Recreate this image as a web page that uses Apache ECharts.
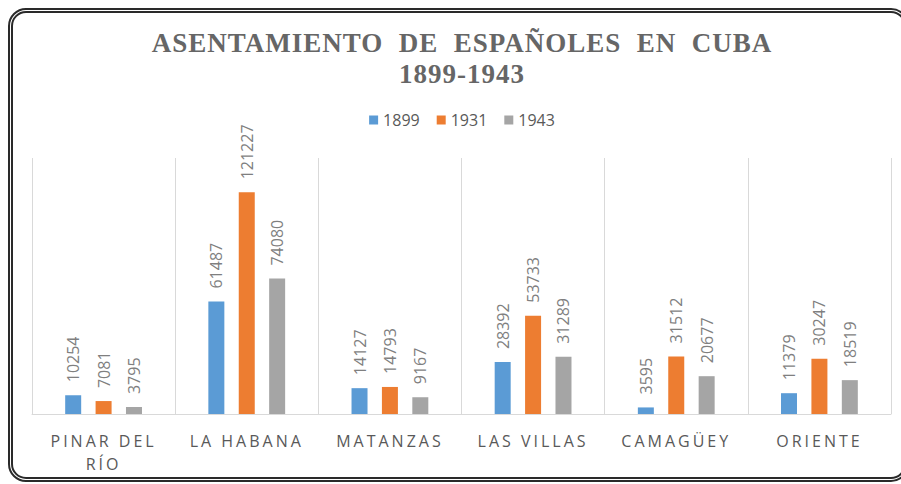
<!DOCTYPE html>
<html>
<head>
<meta charset="utf-8">
<script src="https://cdn.jsdelivr.net/npm/echarts@6/dist/echarts.min.js"></script>
<style>
  html, body { margin: 0; padding: 0; overflow: hidden; background: #fff; }
  #wrap { position: relative; width: 901px; height: 484px; overflow: hidden; }
  #main { position: absolute; left: 0; top: 0; width: 924px; height: 484px; }
  #frame {
    position: absolute; left: 8px; top: 8px; width: 901px; height: 474px;
    box-sizing: border-box; border: 5px double #2a2a2a; border-radius: 18px;
    pointer-events: none;
  }
  svg text { white-space: pre; }
</style>
</head>
<body>
<div id="wrap">
  <div id="main"></div>
  <div id="frame"></div>
</div>
<script>
var provincias = ['PINAR DEL RÍO', 'LA HABANA', 'MATANZAS', 'LAS VILLAS', 'CAMAGÜEY', 'ORIENTE'];
var anios = ['1899', '1931', '1943'];
var datos1899 = [10254, 61487, 14127, 28392, 3595, 11379];
var datos1931 = [7081, 121227, 14793, 53733, 31512, 30247];
var datos1943 = [3795, 74080, 9167, 31289, 20677, 18519];
var colores = ['#5B9BD5', '#ED7D31', '#A5A5A5'];

var chartDom = document.getElementById('main');
var myChart = echarts.init(chartDom, null, { renderer: 'svg' });

function serie(nombre, datos, color) {
  return {
    name: nombre,
    type: 'bar',
    data: datos,
    barWidth: 16,
    barGap: '90%',
    itemStyle: { color: color },
    label: {
      show: true,
      position: 'top',
      rotate: 90,
      align: 'left',
      verticalAlign: 'middle',
      distance: 13,
      color: '#7f7f7f',
      fontFamily: 'Open Sans',
      fontSize: 16
    }
  };
}

var option = {
  animation: false,
  title: {
    text: 'ASENTAMIENTO  DE  ESPAÑOLES  EN  CUBA\n1899-1943',
    left: 'center',
    top: 22,
    textStyle: {
      fontFamily: 'Liberation Serif',
      fontWeight: 'bold',
      fontSize: 27,
      lineHeight: 31,
      color: '#666666'
    }
  },
  legend: {
    data: anios,
    left: 'center',
    top: 107,
    icon: 'rect',
    itemWidth: 9,
    itemHeight: 9,
    itemGap: 17,
    textStyle: { fontFamily: 'Open Sans', fontSize: 16, color: '#595959' }
  },
  grid: { left: 32, right: 33, top: 158, bottom: 70, containLabel: false },
  xAxis: {
    type: 'category',
    data: provincias,
    axisTick: { show: false },
    axisLine: { lineStyle: { color: '#d9d9d9' } },
    splitLine: { show: true, lineStyle: { color: '#d9d9d9' } },
    axisLabel: {
      margin: 15,
      fontFamily: 'Open Sans',
      fontSize: 16,
      lineHeight: 23,
      color: '#595959',
      interval: 0,
      formatter: function (v) { return v.replace('DEL ', 'DEL\n'); }
    }
  },
  yAxis: {
    type: 'value',
    min: 0,
    max: 140000,
    show: false
  },
  series: [
    serie(anios[0], datos1899, colores[0]),
    serie(anios[1], datos1931, colores[1]),
    serie(anios[2], datos1943, colores[2])
  ]
};

myChart.setOption(option);

// espaciado de letras en el titulo y las etiquetas del eje
var lineasEje = [];
provincias.forEach(function (p) {
  p.replace('DEL ', 'DEL\n').split('\n').forEach(function (l) { lineasEje.push(l); });
});
function espaciar() {
  chartDom.querySelectorAll('text').forEach(function (t) {
    var s = t.textContent;
    if (s.indexOf('ASENTAMIENTO') >= 0 || s === '1899-1943') {
      t.style.letterSpacing = '1px';
    } else if (lineasEje.indexOf(s) >= 0) {
      t.style.letterSpacing = '3px';
    }
  });
}
myChart.on('finished', espaciar);
setTimeout(espaciar, 50);
</script>
</body>
</html>
